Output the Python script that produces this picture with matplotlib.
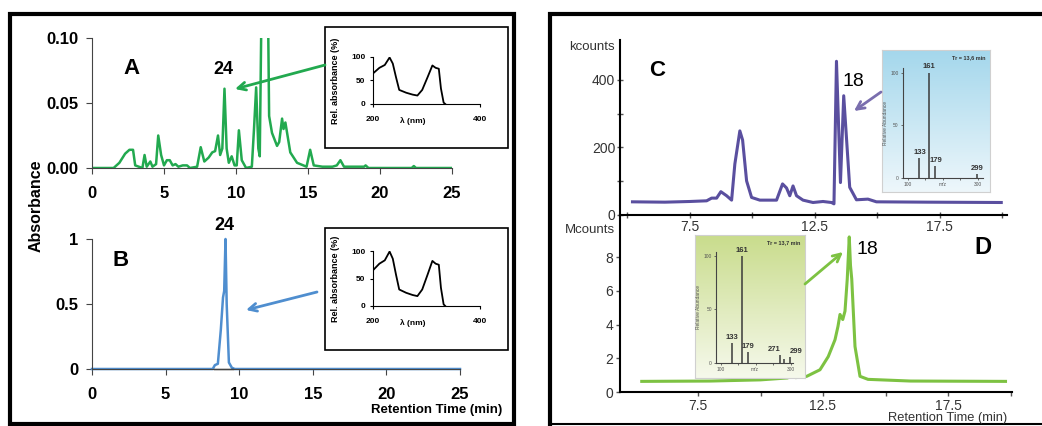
import numpy as np
import matplotlib.pyplot as plt
from matplotlib.patches import Rectangle
from matplotlib.colors import LinearSegmentedColormap

plt.rcParams['font.family'] = ['Liberation Sans', 'DejaVu Sans']

W, H = 1042, 426

# panel A: HPLC-UV trace of the extract
a_time = [0, 1.5, 1.9, 2.3, 2.6, 2.85, 3.0, 3.5, 3.65, 3.8, 4.05, 4.2, 4.45, 4.6, 4.8, 5.0,
          5.2, 5.4, 5.6, 5.8, 6.0, 6.3, 6.6, 6.8, 7.3, 7.55, 7.8, 8.1, 8.35, 8.55, 8.75, 8.9,
          9.05, 9.2, 9.35, 9.5, 9.7, 9.9, 10.05, 10.2, 10.4, 10.7, 11.1, 11.25, 11.4, 11.55,
          11.65, 11.85, 12.0, 12.15, 12.3, 12.5, 12.85, 13.0, 13.2, 13.3, 13.43, 13.77, 14.24,
          14.9, 15.15, 15.4, 16.0, 16.7, 17.0, 17.25, 17.5, 18.9, 19.0, 19.2, 22.2, 22.35,
          22.5, 25]
a_abs = [0, 0, 0.004, 0.011, 0.014, 0.014, 0.002, 0.0, 0.010, 0.001, 0.005, 0.001, 0.003,
         0.025, 0.010, 0.002, 0.006, 0.006, 0.002, 0.003, 0.001, 0.002, 0.002, 0.0, 0.001,
         0.016, 0.005, 0.008, 0.012, 0.013, 0.025, 0.010, 0.015, 0.061, 0.015, 0.004, 0.009,
         0.002, 0.002, 0.029, 0.006, 0.0, 0.001, 0.030, 0.062, 0.015, 0.009, 0.2, 0.45, 0.2,
         0.040, 0.027, 0.017, 0.020, 0.038, 0.030, 0.035, 0.012, 0.004, 0.001, 0.014, 0.002,
         0.001, 0.001, 0.002, 0.006, 0.001, 0.001, 0.002, 0.0, 0.0, 0.0015, 0.0, 0.0]

# panel B: isolated compound 24
b_time = [0, 8.2, 8.35, 8.55, 8.75, 8.9, 8.98, 9.07, 9.15, 9.3, 9.5, 9.7, 25]
b_abs = [0, 0, 0.03, 0.04, 0.3, 0.55, 0.6, 1.0, 0.5, 0.05, 0.01, 0, 0]
b_base_time = [8.3, 9.6]
b_base_abs = [0, 0]

# UV spectrum of 24 (both insets)
uv_nm = [200, 212, 222, 231, 237, 243, 249, 262, 274, 283, 292, 302, 311, 317, 323, 327, 332, 335]
uv_rel = [65, 77, 83, 99, 86, 57, 30, 24, 20, 18, 30, 57, 82, 77, 75, 33, 3, 0]

# panel C: kcounts
c_time = [5.2, 6.5, 7.5, 8.17, 8.37, 8.57, 8.74, 8.97, 9.17, 9.3, 9.5, 9.61, 9.77, 9.97, 10.3,
          10.97, 11.21, 11.37, 11.5, 11.63, 11.77, 12.03, 12.43, 12.83, 13.17, 13.27, 13.37,
          13.53, 13.66, 13.9, 14.17, 14.63, 14.97, 17.0, 19.97]
c_kcounts = [39, 38, 40, 42, 50, 50, 69, 57, 44, 151, 249, 222, 101, 52, 44, 44, 92, 80, 57, 86,
             57, 44, 37, 40, 37, 33, 455, 96, 353, 82, 45, 47, 39, 38, 37]

# panel D: Mcounts
d_time = [5.25, 8.0, 10.0, 11.05, 11.3, 11.45, 11.85, 12.38, 12.71, 12.98, 13.1, 13.18, 13.29,
          13.38, 13.47, 13.55, 13.6, 13.65, 13.78, 13.98, 14.3, 14.65, 16.0, 19.8]
d_mcounts = [0.63, 0.65, 0.72, 0.83, np.nan, 0.86, 0.93, 1.32, 2.1, 3.1, 3.9, 4.6, 4.3, 4.8, 6.7,
             9.2, 7.5, 6.7, 2.7, 0.93, 0.75, 0.73, 0.65, 0.63]

# mass spectra of 18
ms_c_mz = [133, 161, 179, 299]
ms_c_ab = [19, 100, 11, 3.5]
ms_c_lab = ['133', '161', '179', '299']
ms_d_mz = [133, 161, 179, 271, 280, 299]
ms_d_ab = [18, 100, 9.6, 7, 3, 5.5]
ms_d_lab = ['133', '161', '179', '271', '', '299']


def box(x0, y0, x1, y1):
    return [x0 / W, 1 - y1 / H, (x1 - x0) / W, (y1 - y0) / H]


fig = plt.figure(figsize=(W / 100, H / 100), dpi=100)


def left_axes(rect, t, y, color, ylim, yticks, ylabels, clip=True):
    ax = fig.add_axes(box(*rect))
    ax.patch.set_alpha(0)
    ax.plot(t, y, color=color, lw=1.8, clip_on=clip)
    ax.set_xlim(0, 25)
    ax.set_ylim(*ylim)
    ax.set_xticks(range(0, 26, 5), labels=[str(v) for v in range(0, 26, 5)],
                  fontsize=12, fontweight='bold')
    ax.set_yticks(yticks, labels=ylabels, fontsize=12, fontweight='bold')
    ax.spines[['top', 'right']].set_visible(False)
    ax.spines[['left', 'bottom']].set_color('#444444')
    ax.tick_params(axis='x', length=4, color='#444444', pad=9)
    ax.tick_params(axis='y', length=4, color='#444444', pad=6)
    return ax


def uv_inset(rect):
    ax = fig.add_axes(box(*rect))
    ax.patch.set_alpha(0)
    ax.plot(uv_nm, uv_rel, color='black', lw=1.3)
    ax.set_xlim(200, 400)
    ax.set_ylim(0, 100)
    ax.set_xticks([200, 400], labels=['200', '400'], fontsize=6, fontweight='bold')
    ax.set_yticks([0, 50, 100], labels=['0', '50', '100'], fontsize=6, fontweight='bold')
    ax.spines[['top', 'right']].set_visible(False)
    ax.tick_params(axis='x', length=2.5, pad=6)
    ax.tick_params(axis='y', length=2.5, pad=3)
    ax.annotate('λ (nm)', xy=(0.37, 0), xycoords='axes fraction', xytext=(0, -12.5),
                textcoords='offset points', ha='center', va='center', fontsize=6,
                fontweight='bold')
    ax.set_ylabel('Rel. absorbance (%)', fontsize=6.5, fontweight='bold')
    ax.yaxis.set_label_coords(-0.31, 0.5)
    return ax


def ms_inset(frame, rect, top, bottom, mz, ab, labs, aligns, xlim, tr_text):
    gx = fig.add_axes(box(*frame))
    grad = np.linspace(0, 1, 256).reshape(-1, 1)
    gx.imshow(grad, aspect='auto', extent=[0, 1, 0, 1],
              cmap=LinearSegmentedColormap.from_list('bg', [top, bottom]))
    gx.set_xticks([])
    gx.set_yticks([])
    for s in gx.spines.values():
        s.set_color('#d0d0d0')
        s.set_linewidth(0.8)
    gx.text(0.96, 0.965, tr_text, transform=gx.transAxes, ha='right', va='top',
            fontsize=4, fontweight='bold', color='#333333')
    ax = fig.add_axes(box(*rect))
    ax.patch.set_alpha(0)
    ax.vlines(mz, 0, ab, color='#3a3a3a', lw=1.1)
    for m, a, lab, ha in zip(mz, ab, labs, aligns):
        ax.text(m, a + 2, lab, ha=ha, va='bottom', fontsize=5.5, fontweight='bold',
                color='#333333')
    ax.set_xlim(*xlim)
    ax.set_ylim(0, 104)
    ax.set_xticks([100, 300], labels=['100', '300'], fontsize=3.5)
    ax.set_xticks([150, 200, 250], minor=True)
    ax.set_yticks([0, 50, 100], labels=['0', '50', '100'], fontsize=3.5)
    ax.spines[['top', 'right']].set_visible(False)
    ax.spines[['left', 'bottom']].set_color('#444444')
    ax.tick_params(which='both', length=1.5, width=0.6, pad=1.5, colors='#555555')
    ax.annotate('m/z', xy=(0.5, 0), xycoords='axes fraction', xytext=(0, -5),
                textcoords='offset points', ha='center', va='center', fontsize=3.5,
                color='#555555')
    ax.set_ylabel('Relative Abundance', fontsize=3.5, color='#555555', labelpad=2)
    return ax


# ---- left panel
ax_a = left_axes((92, 38, 452, 168), a_time, a_abs, '#22a94f', (0, 0.1),
                 [0, 0.05, 0.1], ['0.00', '0.05', '0.10'])
ax_b = left_axes((92, 239, 460, 369), b_time, b_abs, '#4f8ecf', (0, 1),
                 [0, 0.5, 1], ['0', '0.5', '1'], clip=False)
ax_b.plot(b_base_time, b_base_abs, color='black', lw=1, clip_on=False)
uv_inset((373, 57, 480, 104))
uv_inset((373, 251, 480, 306))

# ---- right panel
cx = fig.add_axes(box(620, 40, 1007, 215))
cx.patch.set_alpha(0)
cx.plot(c_time, c_kcounts, color='#5a4f9f', lw=2.2)
cx.set_xlim(4.7, 20.2)
cx.set_ylim(0, 518)
cx.set_xticks([7.5, 12.5, 17.5], labels=['7.5', '12.5', '17.5'], fontsize=10)
cx.set_xticks([5, 10, 15, 20], minor=True)
cx.set_yticks([0, 200, 400], labels=['0', '200', '400'], fontsize=10)
cx.set_yticks([100, 300], minor=True)
cx.spines[['top', 'right']].set_visible(False)
cx.spines[['left', 'bottom']].set_linewidth(1.5)
cx.tick_params(which='both', direction='inout', length=4, width=1, color='#555555',
               labelcolor='#333333', pad=1.5)

dx = fig.add_axes(box(620, 215, 1012, 392))
dx.patch.set_alpha(0)
dx.plot(d_time, d_mcounts, color='#7dc242', lw=2.2)
dx.set_xlim(4.38, 20.06)
dx.set_ylim(0, 10.5)
dx.set_xticks([7.5, 12.5, 17.5], labels=['7.5', '12.5', '17.5'], fontsize=10)
dx.set_xticks([10, 15, 20], minor=True)
dx.set_yticks([0, 2, 4, 6, 8], labels=['0', '2', '4', '6', '8'], fontsize=10)
dx.spines[['top', 'right']].set_visible(False)
dx.spines[['left', 'bottom']].set_linewidth(1.5)
dx.tick_params(which='both', length=3, width=1, color='#555555', labelcolor='#333333', pad=2)

ms_inset((882, 50, 990, 192), (902.7, 68.3, 983.3, 177.7), '#a4d7ec', '#eef7fb',
         ms_c_mz, ms_c_ab, ms_c_lab, ['center'] * 4, (85, 316), 'Tr = 13,6 min')
ms_inset((695, 235, 805, 378), (716, 251.7, 793.3, 362.7), '#c9dc8c', '#f6f9ec',
         ms_d_mz, ms_d_ab, ms_d_lab,
         ['center', 'center', 'center', 'right', 'center', 'left'],
         (86, 308), 'Tr = 13,7 min')

# ---- overlay in pixel coordinates: frames, arrows, labels
ov = fig.add_axes([0, 0, 1, 1], zorder=5)
ov.patch.set_alpha(0)
ov.set_xlim(0, W)
ov.set_ylim(H, 0)
ov.axis('off')

ov.add_patch(Rectangle((10, 14), 504, 410, fill=False, lw=3, ec='black'))
ov.plot([550, 550, 1042], [424, 14, 14], color='black', lw=3, solid_joinstyle='miter')
ov.plot([550, 1042], [424, 424], color='black', lw=1.5)
ov.add_patch(Rectangle((325, 27), 183, 121, fill=False, lw=1.2, ec='black'))
ov.add_patch(Rectangle((325, 228), 183, 122, fill=False, lw=1.2, ec='black'))

arrows = [((325, 65), (235, 89), '#22a94f'),
          ((317, 292), (246, 310), '#4f8ecf'),
          ((881, 92), (854, 111), '#7a6eae'),
          ((805, 284), (843, 252), '#7dc242')]
for tail, head, col in arrows:
    ov.annotate('', xy=head, xytext=tail,
                arrowprops=dict(arrowstyle='->', color=col, lw=2, mutation_scale=14,
                                shrinkA=0, shrinkB=0))

ov.text(131, 69, 'A', fontsize=16, fontweight='bold', ha='center', va='center')
ov.text(223, 70, '24', fontsize=13, fontweight='bold', ha='center', va='center')
ov.text(121, 261, 'B', fontsize=16, fontweight='bold', ha='center', va='center')
ov.text(224, 225, '24', fontsize=13, fontweight='bold', ha='center', va='center')
ov.text(36, 206, 'Absorbance', rotation=90, fontsize=11.5, fontweight='bold',
        ha='center', va='center')
ov.text(502, 410, 'Retention Time (min)', fontsize=9.5, fontweight='bold',
        ha='right', va='center')

ov.text(657, 70, 'C', fontsize=16, fontweight='bold', ha='center', va='center')
ov.text(853, 81, '18', fontsize=14, ha='center', va='center')
ov.text(983, 247, 'D', fontsize=17, fontweight='bold', ha='center', va='center')
ov.text(867, 249, '18', fontsize=14, ha='center', va='center')
ov.text(592, 47, 'kcounts', fontsize=9.5, color='#333333', ha='center', va='center')
ov.text(590, 230, 'Mcounts', fontsize=9.5, color='#333333', ha='center', va='center')
ov.text(948, 418, 'Retention Time (min)', fontsize=9.3, color='#333333',
        ha='center', va='center')

fig.savefig('out.png', dpi=100)
